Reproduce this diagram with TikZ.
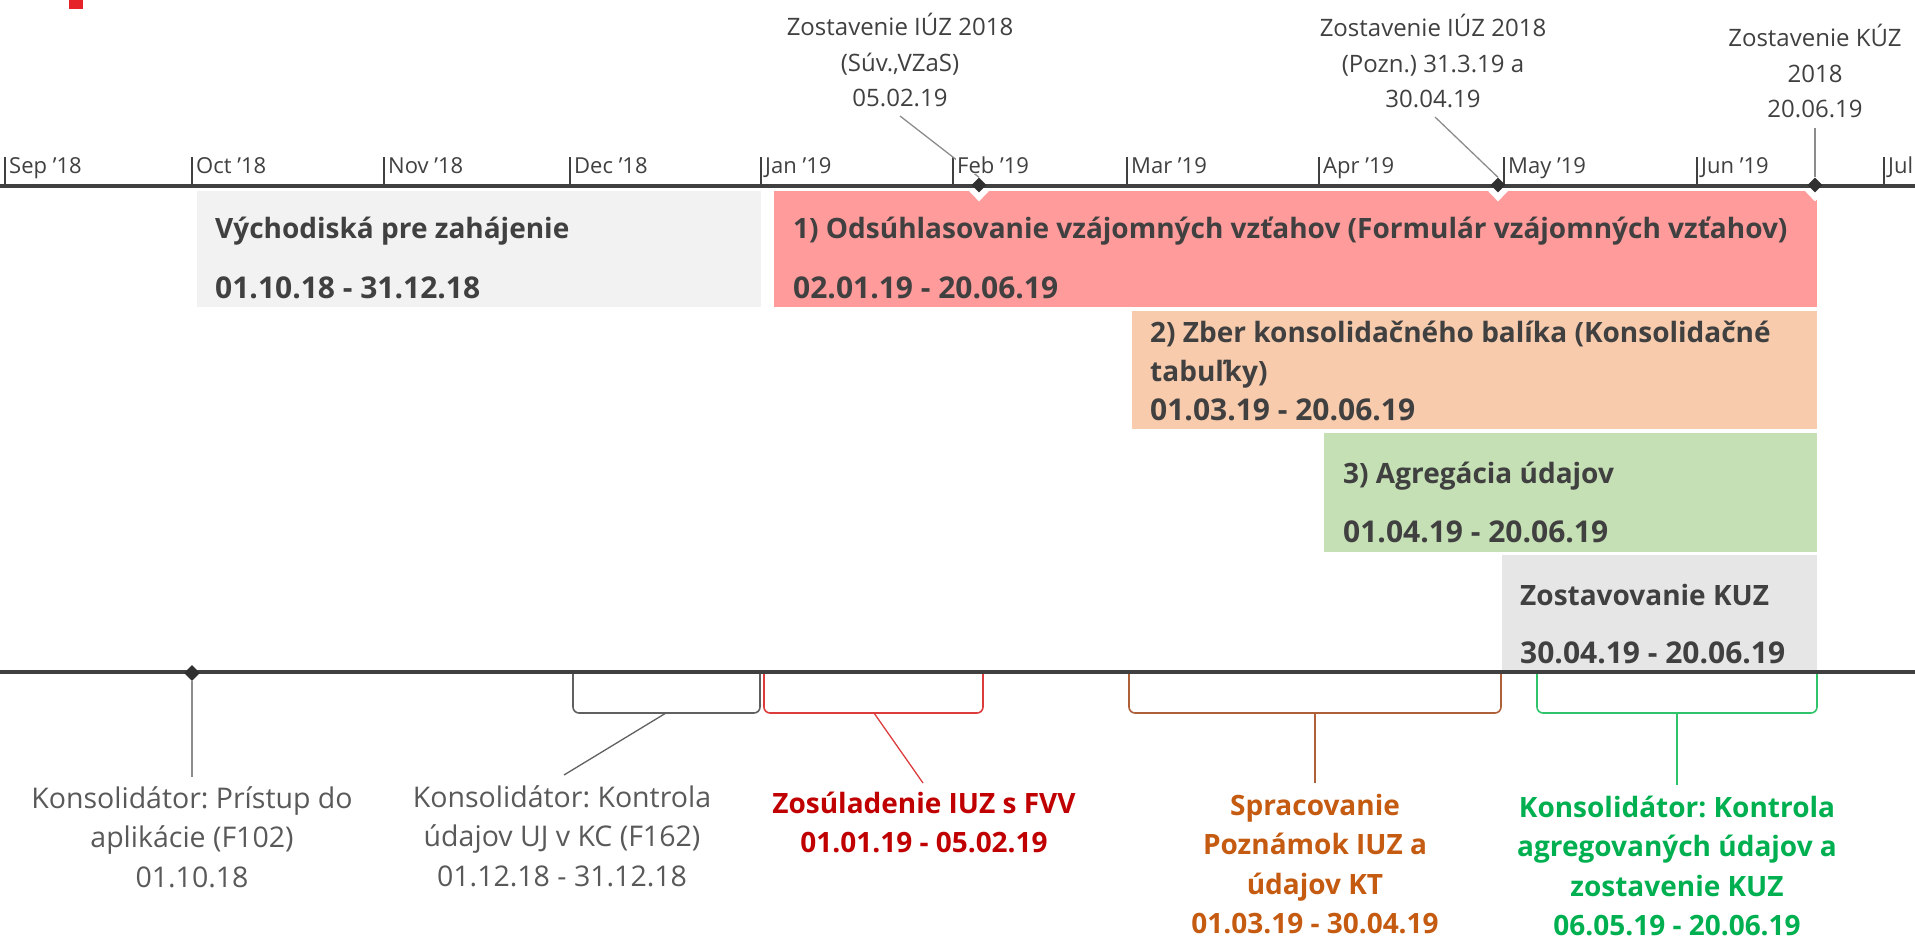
\documentclass[tikz,border=0pt]{standalone}
\usepackage{fontspec}
\setmainfont{Open Sans}
\usetikzlibrary{shapes.geometric}
\definecolor{txt}{HTML}{404040}
\definecolor{gtxt}{HTML}{595959}
\definecolor{ldr}{HTML}{8C8C8C}
\definecolor{axisc}{HTML}{404040}
\definecolor{dk}{HTML}{303030}
\definecolor{barA}{HTML}{F2F2F2}
\definecolor{barR}{HTML}{FF9B9B}
\definecolor{barO}{HTML}{F8CBAD}
\definecolor{barG}{HTML}{C5E0B4}
\definecolor{barK}{HTML}{E6E6E6}
\definecolor{redT}{HTML}{C00000}
\definecolor{redB}{HTML}{DC3C3C}
\definecolor{brnT}{HTML}{C55A11}
\definecolor{brnB}{HTML}{AE6038}
\definecolor{grnT}{HTML}{00B050}
\definecolor{grnB}{HTML}{2FC46A}
\definecolor{grayB}{HTML}{606060}
\definecolor{topred}{HTML}{E52329}
\newcommand\mlc[1]{\begin{tabular}[t]{@{}c@{}}#1\end{tabular}}
\newcommand\mll[1]{\begin{tabular}[t]{@{}l@{}}#1\end{tabular}}
\newcommand\dte[1]{{\fontsize{30}{39}\selectfont #1}}
\frenchspacing
\begin{document}
\frenchspacing
\begin{tikzpicture}[x=1pt,y=-1pt,
  mtick/.style={draw=axisc, line width=1.2pt},
  month/.style={font=\fontsize{22}{22}\selectfont, text=txt, fill=white, inner sep=1pt, anchor=base west},
  bar/.style={draw=white, line width=1.5pt, inner sep=0pt, anchor=north west},
  bartxt/.style={font=\bfseries\fontsize{28}{39}\selectfont, text=txt, anchor=base west, inner sep=0pt},
  ms/.style={font=\fontsize{24}{35.5}\selectfont, text=txt, anchor=base, inner sep=0pt},
  wdiam/.style={diamond, fill=white, inner sep=0pt, minimum width=22pt, minimum height=23pt},
  bdiam/.style={diamond, fill=dk, inner sep=0pt, minimum width=15pt, minimum height=15pt},
  leader/.style={draw=ldr, line width=1.3pt},
  axisline/.style={draw=axisc, line width=3.5pt},
  brk/.style={line width=1.6pt, rounded corners=6pt},
  lblR/.style={font=\fontsize{28.5}{39.5}\selectfont, text=gtxt, anchor=base, inner sep=0pt},
  lblB/.style={font=\bfseries\fontsize{28}{39.5}\selectfont, anchor=base, inner sep=0pt}
]
\useasboundingbox (0,0) rectangle (1915,937);
\fill[topred] (69,0) rectangle (83,9);

% bars
\node[bar, fill=barA, minimum width=566pt, minimum height=118pt] (b0) at (195,189) {};
\node[bar, fill=barR, minimum width=1045pt, minimum height=118pt] (b1) at (772,189) {};
\node[bar, fill=barO, minimum width=687pt, minimum height=120pt] (b2) at (1130,309) {};
\node[bar, fill=barG, minimum width=495pt, minimum height=121pt] (b3) at (1322,431) {};
\node[bar, fill=barK, minimum width=317pt, minimum height=119pt] (b4) at (1500,553) {};

\node[bartxt] (t0) at (215,238) {\mll{Východiská pre zahájenie\\[21pt]\dte{01.10.18 - 31.12.18}}};
\node[bartxt] (t1) at (793,238) {\mll{1) Odsúhlasovanie vzájomných vzťahov (Formulár vzájomných vzťahov)\\[21pt]\dte{02.01.19 - 20.06.19}}};
\node[bartxt] (t2) at (1150,342) {\mll{2) Zber konsolidačného balíka (Konsolidačné\\tabuľky)\\\dte{01.03.19 - 20.06.19}}};
\node[bartxt] (t3) at (1343,483) {\mll{3) Agregácia údajov\\[20pt]\dte{01.04.19 - 20.06.19}}};
\node[bartxt] (t4) at (1520,605) {\mll{Zostavovanie KUZ\\[19pt]\dte{30.04.19 - 20.06.19}}};

% milestone white backs
\node[wdiam] (w1) at (979,190) {};
\node[wdiam] (w2) at (1498,190) {};
\node[wdiam] (w3) at (1815,190) {};

% axes
\coordinate (axL) at (0,186);
\coordinate (axR) at (1915,186);
\draw[axisline] (axL) -- (axR);
\coordinate (bxL) at (0,672);
\coordinate (bxR) at (1915,672);
\draw[axisline] (bxL) -- (bxR);

% ticks
\foreach \nm/\x in {sep/5,oct/192,nov/384,dec/570,jan/761,feb/953,mar/1127,apr/1319,may/1504,jun/1697,jul/1884}{
  \coordinate (tk\nm) at (\x,157);
  \coordinate (tb\nm) at (\x,186);
  \draw[mtick] (tk\nm) -- (tb\nm);
}

% milestone diamonds
\node[bdiam] (d1) at (979,185) {};
\node[bdiam] (d2) at (1498,185) {};
\node[bdiam] (d3) at (1815,185) {};

% milestone labels
\node[ms] (m1) at (900,35.5) {\mlc{Zostavenie IÚZ 2018\\(Súv.,VZaS)\\05.02.19}};
\node[ms] (m2) at (1433,36.5) {\mlc{Zostavenie IÚZ 2018\\(Pozn.) 31.3.19 a\\30.04.19}};
\node[ms] (m3) at (1815,46.5) {\mlc{Zostavenie KÚZ\\2018\\20.06.19}};
\coordinate (m1b) at (900,116);
\coordinate (m2b) at (1435,117);
\coordinate (m3b) at (1815,128);
\draw[leader] (m1b) -- (d1.north);
\draw[leader] (m2b) -- (d2.north);
\draw[leader] (m3b) -- (d3.north);

% month labels
\node[month] (lsep) at (8,173) {Sep '18};
\node[month] (loct) at (195,173) {Oct '18};
\node[month] (lnov) at (387,173) {Nov '18};
\node[month] (ldec) at (573,173) {Dec '18};
\node[month] (ljan) at (764,173) {Jan '19};
\node[month] (lfeb) at (956,173) {Feb '19};
\node[month] (lmar) at (1130,173) {Mar '19};
\node[month] (lapr) at (1322,173) {Apr '19};
\node[month] (lmay) at (1507,173) {May '19};
\node[month] (ljun) at (1700,173) {Jun '19};
\node[month] (ljul) at (1887,173) {Jul '19};

% bottom: milestone Oct
\node[bdiam, minimum width=16pt, minimum height=16pt] (d0) at (192,673) {};
\coordinate (l0top) at (192,777);
\draw[leader] (d0.south) -- (l0top);
\node[lblR] (l0) at (192,808) {\mlc{Konsolidátor: Prístup do\\aplikácie (F102)\\01.10.18}};

% brackets
\coordinate (g1) at (573,674); \coordinate (g2) at (760,674);
\draw[brk, draw=grayB] (g1) -- (573,713) -- (760,713) -- (g2);
\coordinate (gm) at (666,713);
\coordinate (l1top) at (564,775);
\draw[leader, draw=grayB] (gm) -- (l1top);
\node[lblR] (l1) at (562,807) {\mlc{Konsolidátor: Kontrola\\údajov UJ v KC (F162)\\01.12.18 - 31.12.18}};

\coordinate (r1) at (764,674); \coordinate (r2) at (983,674);
\draw[brk, draw=redB] (r1) -- (764,713) -- (983,713) -- (r2);
\coordinate (rm) at (874,713);
\coordinate (l2top) at (923,783);
\draw[leader, draw=redB] (rm) -- (l2top);
\node[lblB, text=redT] (l2) at (924,813) {\mlc{Zosúladenie IUZ s FVV\\01.01.19 - 05.02.19}};

\coordinate (o1) at (1129,674); \coordinate (o2) at (1501,674);
\draw[brk, draw=brnB] (o1) -- (1129,713) -- (1501,713) -- (o2);
\coordinate (om) at (1315,713);
\coordinate (l3top) at (1315,783);
\draw[leader, draw=brnB] (om) -- (l3top);
\node[lblB, text=brnT] (l3) at (1315,815) {\mlc{Spracovanie\\Poznámok IUZ a\\údajov KT\\01.03.19 - 30.04.19}};

\coordinate (e1) at (1537,674); \coordinate (e2) at (1817,674);
\draw[brk, draw=grnB] (e1) -- (1537,713) -- (1817,713) -- (e2);
\coordinate (em) at (1677,713);
\coordinate (l4top) at (1677,785);
\draw[leader, draw=grnB] (em) -- (l4top);
\node[lblB, text=grnT] (l4) at (1677,817) {\mlc{Konsolidátor: Kontrola\\agregovaných údajov a\\zostavenie KUZ\\06.05.19 - 20.06.19}};
\end{tikzpicture}
\end{document}
